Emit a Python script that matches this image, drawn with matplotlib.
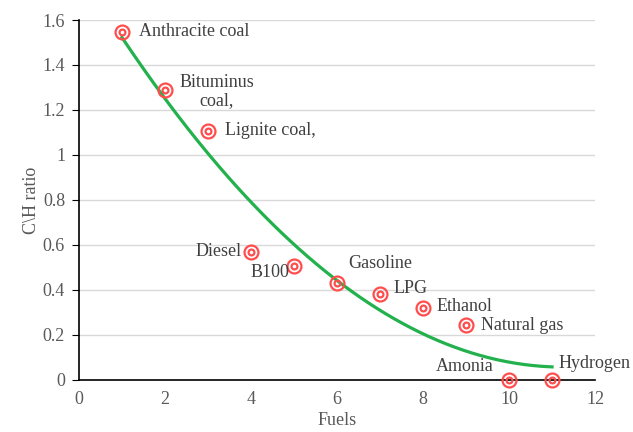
import numpy as np
import matplotlib
matplotlib.use("Agg")
import matplotlib.pyplot as plt

fuels = ["Anthracite coal", "Bituminus\ncoal,", "Lignite coal,", "Diesel", "B100",
         "Gasoline", "LPG", "Ethanol", "Natural gas", "Amonia", "Hydrogen"]
x_vals = [1, 2, 3, 4, 5, 6, 7, 8, 9, 10, 11]
ch_ratio = [1.547, 1.289, 1.107, 0.569, 0.507, 0.431, 0.382, 0.32, 0.244, 0.0, 0.0]

# label offsets in points (dx, dy, ha)
offsets = [(12, 0, "left"), (37, -1, "center"), (12, 0, "left"), (-7, 0, "right"),
           (-3, -5, "right"), (8, 14, "left"), (10, 4, "left"), (10, 1, "left"),
           (11, 0, "left"), (-11, 10, "right"), (5, 12, "left")]

plt.rcParams['font.family'] = ['Liberation Serif', 'DejaVu Serif']
txt = '#595959'
fs = 13
fig = plt.figure(figsize=(6.33, 4.32), dpi=100)
ax = fig.add_axes([0.1248, 0.1204, 0.8152, 0.8333])

x = np.array(x_vals, float)
y = np.array(ch_ratio, float)
coef = np.polyfit(x, y, 2)
xs = np.linspace(1, 11, 200)
ax.plot(xs, np.polyval(coef, xs), color='#22B14C', lw=2.3, zorder=2)

ax.plot(x, y, 'o', ms=10, mfc='none', mec='#FF4D4D', mew=1.6, zorder=3, clip_on=False)
ax.plot(x, y, 'o', ms=4.2, mfc='none', mec='#FF4D4D', mew=1.6, zorder=3, clip_on=False)

for xi, yi, lab, (dx, dy, ha) in zip(x, y, fuels, offsets):
    ax.annotate(lab, (xi, yi), xytext=(dx, dy), textcoords='offset points',
                ha=ha, va='center', fontsize=fs, color='#404040', linespacing=1.05)

ax.set_xlim(0, 12)
ax.set_ylim(0, 1.6)
ax.set_xticks(np.arange(0, 13, 2))
ax.set_yticks(np.arange(0, 1.61, 0.2))
ax.set_yticklabels(['0', '0.2', '0.4', '0.6', '0.8', '1', '1.2', '1.4', '1.6'])
ax.grid(axis='y', color='#D9D9D9', lw=1)
ax.set_axisbelow(True)
for s in ['top', 'right']:
    ax.spines[s].set_visible(False)
for s in ['left', 'bottom']:
    ax.spines[s].set_color('black')
    ax.spines[s].set_linewidth(1.2)
ax.tick_params(axis='x', length=0, pad=8, labelsize=fs, labelcolor=txt)
ax.tick_params(axis='y', length=5, direction='out', color='black', pad=5, labelsize=fs, labelcolor=txt)
ax.set_xlabel('Fuels', fontsize=fs, color=txt)
ax.xaxis.set_label_coords(0.5, -0.09)
ax.set_ylabel('C\\H ratio', fontsize=fs, color=txt)
ax.yaxis.set_label_coords(-0.075, 0.5)

fig.savefig('out.png', dpi=100)
